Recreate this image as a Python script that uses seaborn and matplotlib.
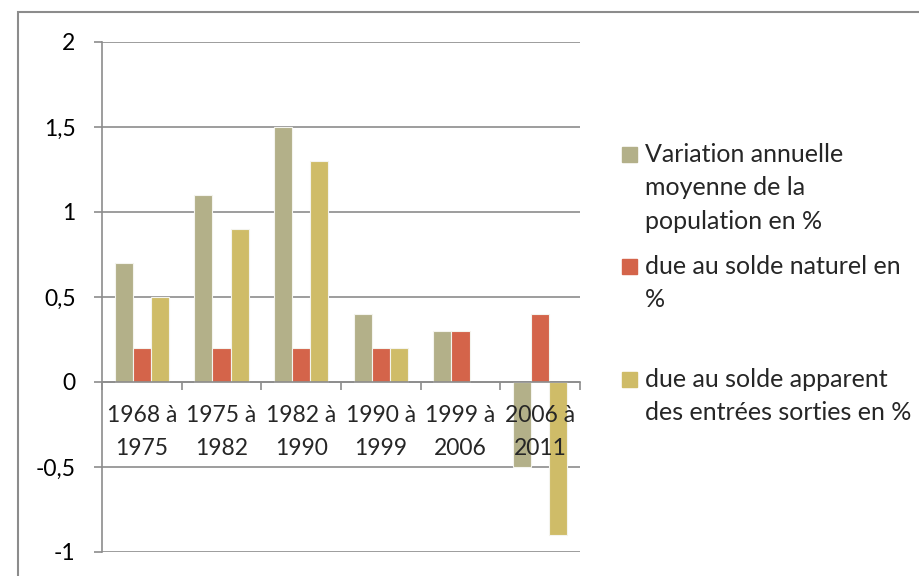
import numpy as np
import pandas as pd
import matplotlib
matplotlib.use("Agg")
import matplotlib.pyplot as plt
from matplotlib.patches import Rectangle
from matplotlib.ticker import FuncFormatter, FixedLocator
import seaborn as sns

periodes = ["1968 à\n1975", "1975 à\n1982", "1982 à\n1990", "1990 à\n1999", "1999 à\n2006", "2006 à\n2011"]
variation = [0.7, 1.1, 1.5, 0.4, 0.3, -0.5]
naturel = [0.2, 0.2, 0.2, 0.2, 0.3, 0.4]
apparent = [0.5, 0.9, 1.3, 0.2, np.nan, -0.9]

series = ["Variation annuelle moyenne de la population en %",
          "due au solde naturel en %",
          "due au solde apparent des entrées sorties en %"]
legende = ["Variation annuelle\nmoyenne de la\npopulation en %",
           "due au solde naturel en\n%",
           "due au solde apparent\ndes entrées sorties en %"]
couleurs = ["#b3b089", "#d4644a", "#cfbc68"]

df = pd.DataFrame({"periode": periodes, series[0]: variation,
                   series[1]: naturel, series[2]: apparent})
df = df.melt(id_vars="periode", var_name="serie", value_name="valeur")

sns.set_style("white")
plt.rcParams["font.family"] = ["Lato", "DejaVu Sans"]
gris = "#8c8c8c"
taille = 16.5

fig = plt.figure(figsize=(9.2, 5.76), dpi=100)
ax = fig.add_axes([102 / 920, 1 - 552 / 576, (580 - 102) / 920, (552 - 42) / 576])

sns.barplot(data=df, x="periode", y="valeur", hue="serie", hue_order=series,
            palette=couleurs, saturation=1, width=0.68, errorbar=None,
            edgecolor="#f4f4ee", linewidth=0.8, legend=False, ax=ax)

ax.set_xlim(-0.5, len(periodes) - 0.5)
ax.set_ylim(-1, 2)
ax.set_yticks(np.arange(-1, 2.01, 0.5))
ax.yaxis.set_major_formatter(FuncFormatter(lambda v, _: f"{v:g}".replace(".", ",")))
ax.yaxis.grid(True, color=gris, lw=1.2)
ax.set_axisbelow(True)
ax.set_xlabel("")
ax.set_ylabel("")

for s in ["top", "right"]:
    ax.spines[s].set_visible(False)
ax.spines["left"].set_color(gris)
ax.spines["left"].set_linewidth(1.2)
ax.spines["bottom"].set_position(("data", 0))
ax.spines["bottom"].set_color(gris)
ax.spines["bottom"].set_linewidth(1.2)

ax.tick_params(axis="y", direction="out", length=6, width=1.2, color=gris,
               pad=13, labelsize=taille, labelcolor="black", left=True)
ax.tick_params(axis="x", which="major", length=0, labelbottom=False)
ax.xaxis.set_minor_locator(FixedLocator(np.arange(-0.5, len(periodes), 1)))
ax.tick_params(axis="x", which="minor", direction="out", length=6, width=1.2,
               color=gris, bottom=True)

# étiquettes de catégories, au-dessus des barres comme dans Excel
for i, lab in enumerate(periodes):
    ax.annotate(lab, (i, 0), xytext=(0, -36), textcoords="offset points",
                ha="center", va="center", fontsize=taille, linespacing=1.65,
                zorder=5)

# cadre extérieur
fig.patches.append(Rectangle((18 / 920, -0.1), 1.2, 1 - 12 / 576 + 0.1,
                             transform=fig.transFigure, fill=False,
                             edgecolor=gris, lw=1.5))

# légende
centres = [154, 266, 379]
for lab, c, y in zip(legende, couleurs, centres):
    fig.patches.append(Rectangle((622 / 920, 1 - (y + 8) / 576), 15 / 920, 15 / 576,
                                 transform=fig.transFigure, color=c))
    fig.text(645 / 920, 1 - (y - 11) / 576, lab, fontsize=18, va="top", ha="left",
             linespacing=1.55)

fig.savefig("out.png", dpi=100)
